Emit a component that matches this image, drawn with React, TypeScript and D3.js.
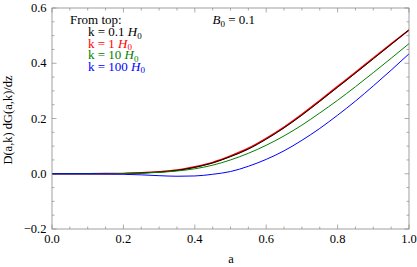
import React from "react";
import * as d3 from "d3";

const aValues = [0, 0.05, 0.1, 0.15, 0.2, 0.25, 0.3, 0.35, 0.4, 0.45, 0.5, 0.55, 0.6, 0.65, 0.7, 0.75, 0.8, 0.85, 0.9, 0.95, 1.0];
const k01 = [0, 0, 0, 0.0003, 0.001, 0.003, 0.006, 0.012, 0.023, 0.039, 0.062, 0.089, 0.125, 0.166, 0.212, 0.262, 0.313, 0.364, 0.416, 0.468, 0.521];
const k1 = [0, 0, 0, 0.0003, 0.001, 0.003, 0.007, 0.013, 0.025, 0.041, 0.064, 0.092, 0.128, 0.169, 0.215, 0.265, 0.316, 0.367, 0.419, 0.470, 0.520];
const k10 = [0, 0, 0, 0.0003, 0.001, 0.002, 0.005, 0.010, 0.018, 0.031, 0.050, 0.074, 0.103, 0.137, 0.176, 0.220, 0.266, 0.315, 0.366, 0.418, 0.471];
const k100 = [0, 0, 0, -0.0008, -0.002, -0.004, -0.007, -0.009, -0.008, -0.002, 0.008, 0.027, 0.052, 0.083, 0.121, 0.164, 0.212, 0.263, 0.318, 0.375, 0.434];

const seriesNames = ["k = 0.1", "k = 1", "k = 10", "k = 100"];
const seriesColors = ["#000000", "#ff0000", "#008000", "#0000ff"];
const seriesData = [k01, k1, k10, k100];

const xTicks = [0, 0.2, 0.4, 0.6, 0.8, 1.0];
const yTicks = [-0.2, 0, 0.2, 0.4, 0.6];

export default function App() {
  const W = 417, H = 267;
  const left = 52, right = 409, top = 8, bottom = 229;
  const x = d3.scaleLinear().domain([0, 1]).range([left, right]);
  const y = d3.scaleLinear().domain([-0.2, 0.6]).range([bottom, top]);
  const line = d3.line<number>().x((_, i) => x(aValues[i])).y((v) => y(v)).curve(d3.curveMonotoneX);
  const font = "'Liberation Serif', 'DejaVu Serif', serif";
  const axisColor = "#888";
  const xMinor = d3.range(0, 1.0001, 0.05);
  const yMinor = d3.range(-0.2, 0.6001, 0.05);
  const fmt = (v: number) => (v < 0 ? "\u2212" : "") + Math.abs(v).toFixed(1);
  const drawOrder = [1, 0, 2, 3];
  return (
    <svg width={W} height={H} style={{ position: "absolute", left: 0, top: 0, fontFamily: font }}>
      <rect x={0} y={0} width={W} height={H} fill="#fff" />
      <defs>
        <clipPath id="plot">
          <rect x={left} y={top} width={right - left} height={bottom - top} />
        </clipPath>
      </defs>
      {xMinor.map((t, i) => {
        const major = Math.abs(t * 5 - Math.round(t * 5)) < 1e-6;
        const len = major ? 4.5 : 2.5;
        return (
          <g key={"xt" + i} stroke={axisColor} strokeWidth={0.7}>
            <line x1={x(t)} x2={x(t)} y1={bottom} y2={bottom - len} />
            <line x1={x(t)} x2={x(t)} y1={top} y2={top + len} />
          </g>
        );
      })}
      {yMinor.map((t, i) => {
        const major = Math.abs(t * 5 - Math.round(t * 5)) < 1e-6;
        const len = major ? 4.5 : 2.5;
        return (
          <g key={"yt" + i} stroke={axisColor} strokeWidth={0.7}>
            <line x1={left} x2={left + len} y1={y(t)} y2={y(t)} />
            <line x1={right} x2={right - len} y1={y(t)} y2={y(t)} />
          </g>
        );
      })}
      <g clipPath="url(#plot)">
        {drawOrder.map((si) => (
          <path
            key={"s" + si}
            d={line(seriesData[si]) || ""}
            fill="none"
            stroke={seriesColors[si]}
            strokeWidth={si === 1 ? 1.6 : 1}
          />
        ))}
      </g>
      <rect x={left} y={top} width={right - left} height={bottom - top} fill="none" stroke={axisColor} strokeWidth={0.8} />
      {xTicks.map((t, i) => (
        <text key={"xl" + i} x={x(t)} y={243} textAnchor="middle" fontSize={12.5}>
          {fmt(t)}
        </text>
      ))}
      {yTicks.map((t, i) => (
        <text key={"yl" + i} x={46.5} y={y(t) + 4.2} textAnchor="end" fontSize={12.5}>
          {fmt(t)}
        </text>
      ))}
      <text x={231} y={263} textAnchor="middle" fontSize={12.5}>a</text>
      <text transform={`translate(12,120) rotate(-90)`} textAnchor="middle" fontSize={12.5}>
        D(a,k) dG(a,k)/dz
      </text>
      <text x={70} y={24} fontSize={13}>From top:</text>
      {seriesNames.map((n, i) => (
        <text key={"lg" + i} x={88} y={36 + i * 11.5} fontSize={13} fill={seriesColors[i]}>
          {n + " "}
          <tspan fontStyle="italic">H</tspan>
          <tspan fontSize={9} dy={2.5}>0</tspan>
        </text>
      ))}
      <text x={212.5} y={24} fontSize={13}>
        <tspan fontStyle="italic">B</tspan>
        <tspan fontSize={9} dy={2.5}>0</tspan>
        <tspan dy={-2.5}>{" = 0.1"}</tspan>
      </text>
    </svg>
  );
}
